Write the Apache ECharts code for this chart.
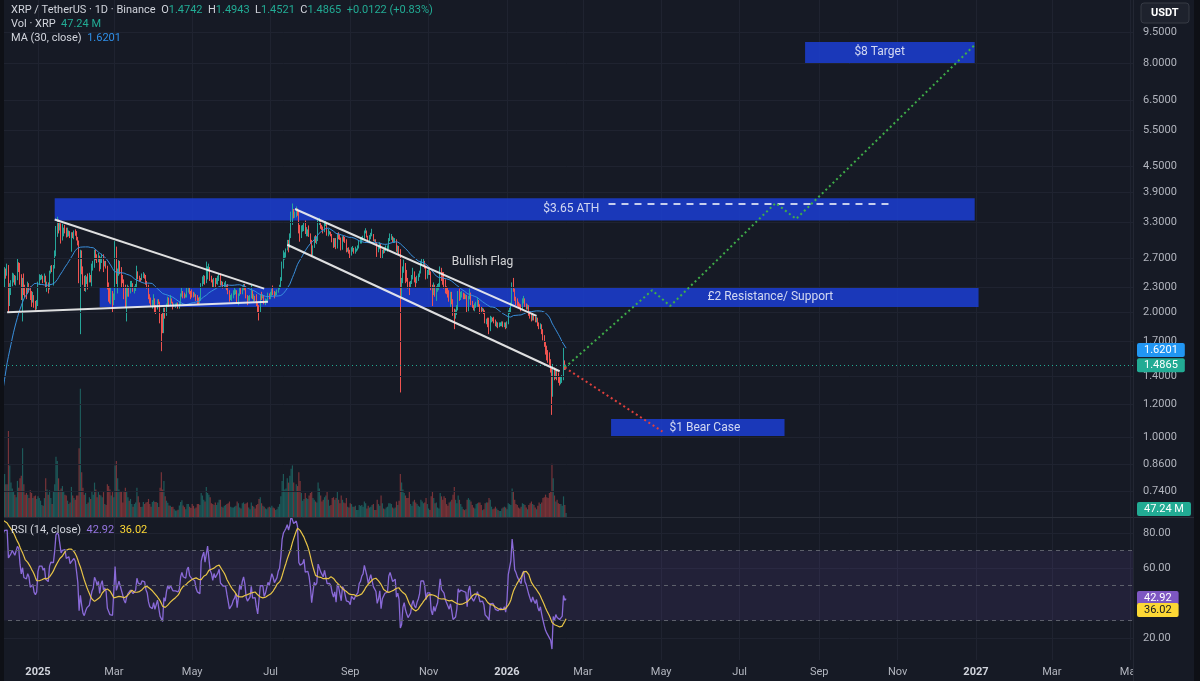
<!DOCTYPE html>
<html>
<head>
<meta charset="utf-8">
<title>XRP / TetherUS 1D</title>
<script src="https://cdn.jsdelivr.net/npm/echarts@6/dist/echarts.min.js"></script>
<style>
  html, body { margin: 0; padding: 0; background: #161a25; }
  #main { width: 1200px; height: 681px; }
</style>
</head>
<body>
<div id="main"></div>
<script>
// daily bars from 2024-11-01 (November only warms up MA / RSI, it sits left of the view)
const startDay = '2024-11-01';
const firstOpen = 0.52;
const closes = [
  0.51,0.51,0.51,0.50,0.52,0.55,0.55,0.56,0.59,0.63,0.71,0.67,0.73,0.80,0.90,1.12,1.08,1.13,1.10,1.10,1.14,1.43,1.49,1.44,1.41,1.40,1.47,1.54,1.72,1.96,
  2.05,2.62,2.56,2.55,2.38,2.51,2.50,2.55,2.24,2.28,2.35,2.43,2.43,2.38,2.41,2.59,2.57,2.40,2.28,2.39,2.26,2.25,2.24,2.32,2.28,2.15,2.13,2.18,2.08,2.05,2.08,
  2.35,2.44,2.44,2.44,2.40,2.43,2.32,2.34,2.30,2.50,2.56,2.55,2.56,2.75,3.18,3.26,3.24,3.24,3.07,3.13,3.17,3.16,3.08,3.10,3.11,3.05,3.08,3.07,3.13,3.11,3.03,
  2.93,2.55,2.73,2.55,2.38,2.32,2.37,2.41,2.39,2.43,2.40,2.58,2.62,2.77,2.73,2.67,2.72,2.56,2.68,2.73,2.60,2.63,2.58,2.30,2.27,2.17,2.19,2.14,
  2.15,2.87,2.40,2.50,2.61,2.51,2.40,2.38,2.18,2.11,2.21,2.27,2.23,2.32,2.33,2.26,2.28,2.31,2.49,2.42,2.41,2.40,2.45,2.46,2.44,2.35,2.31,2.19,2.12,2.09,2.09,
  2.14,2.05,2.04,2.12,2.11,1.90,1.87,1.81,2.02,1.97,2.07,2.14,2.10,2.14,2.11,2.08,2.08,2.08,2.09,2.07,2.09,2.19,2.23,2.20,2.19,2.19,2.26,2.28,2.23,2.22,
  2.21,2.20,2.20,2.16,2.14,2.13,2.13,2.33,2.38,2.42,2.37,2.45,2.55,2.56,2.41,2.39,2.34,2.40,2.37,2.37,2.41,2.44,2.35,2.35,2.33,2.33,2.33,2.28,2.23,2.17,2.17,
  2.19,2.21,2.22,2.24,2.15,2.20,2.27,2.24,2.29,2.32,2.28,2.19,2.16,2.16,2.18,2.24,2.16,2.17,2.16,2.09,2.03,2.02,2.19,2.18,2.19,2.11,2.13,2.14,2.20,2.18,
  2.22,2.26,2.24,2.21,2.22,2.24,2.28,2.30,2.39,2.60,2.72,2.77,2.83,2.93,2.90,3.04,3.45,3.49,3.43,3.44,3.54,3.50,3.18,3.15,3.18,3.18,3.25,3.12,3.12,3.13,3.08,
  2.97,2.76,2.88,3.01,2.97,3.00,3.30,3.33,3.22,3.20,3.16,3.26,3.28,3.11,3.11,3.11,3.08,3.00,2.95,3.00,2.87,3.07,3.03,3.01,2.85,3.02,2.99,2.97,2.82,2.83,2.80,
  2.76,2.84,2.85,2.80,2.83,2.83,2.86,2.94,2.96,3.01,3.03,3.12,3.14,3.05,2.99,3.03,3.07,3.08,2.98,2.98,2.94,2.83,2.86,2.92,2.73,2.81,2.79,2.85,2.86,2.86,
  3.00,3.04,3.04,2.97,2.98,2.99,2.84,2.87,2.81,2.36,2.39,2.55,2.60,2.48,2.40,2.33,2.31,2.36,2.44,2.48,2.40,2.37,2.42,2.45,2.50,2.63,2.63,2.63,2.58,2.44,2.50,
  2.51,2.50,2.29,2.22,2.29,2.22,2.26,2.29,2.30,2.52,2.40,2.39,2.36,2.28,2.26,2.20,2.16,2.20,2.11,1.98,1.95,1.98,2.04,2.22,2.18,2.20,2.20,2.19,2.18,2.18,
  2.04,2.17,2.21,2.10,2.08,2.05,2.07,2.09,2.12,2.08,2.03,2.02,2.03,2.00,1.90,1.91,1.86,1.83,1.92,1.93,1.92,1.90,1.87,1.87,1.86,1.86,1.87,1.87,1.86,1.87,1.84,
  1.88,2.00,2.01,2.09,2.34,2.27,2.15,2.13,2.10,2.08,2.07,2.05,2.13,2.15,2.08,2.06,2.06,1.99,1.96,1.93,1.96,1.93,1.91,1.93,1.87,1.84,1.86,1.80,1.74,1.68,1.62,
  1.58,1.57,1.51,1.47,1.27,1.46,1.40,1.44,1.40,1.39,1.37,1.38,1.39,1.52,1.4742,1.4865
];
const highs = [
  0.53,0.52,0.52,0.52,0.53,0.57,0.57,0.57,0.60,0.64,0.75,0.73,0.76,0.82,0.92,1.27,1.18,1.18,1.16,1.14,1.17,1.46,1.63,1.52,1.49,1.44,1.50,1.56,1.78,1.99,
  2.10,2.79,2.91,2.65,2.63,2.57,2.55,2.62,2.60,2.35,2.39,2.49,2.48,2.46,2.45,2.70,2.64,2.63,2.47,2.42,2.48,2.33,2.29,2.37,2.35,2.31,2.25,2.24,2.20,2.13,2.14,
  2.37,2.47,2.46,2.47,2.45,2.48,2.45,2.37,2.36,2.52,2.59,2.60,2.60,2.82,3.23,3.40,3.35,3.31,3.28,3.27,3.20,3.25,3.20,3.20,3.15,3.14,3.12,3.12,3.15,3.17,3.14,
  3.04,2.98,2.83,2.82,2.58,2.45,2.46,2.44,2.48,2.49,2.46,2.62,2.66,2.83,2.84,2.76,2.78,2.74,2.72,2.77,2.76,2.66,2.66,2.59,2.36,2.30,2.29,2.25,
  2.22,2.97,2.88,2.55,2.67,2.66,2.57,2.46,2.40,2.33,2.30,2.33,2.31,2.38,2.38,2.35,2.31,2.34,2.59,2.51,2.45,2.42,2.48,2.50,2.48,2.46,2.38,2.33,2.21,2.17,2.14,
  2.21,2.16,2.08,2.15,2.15,2.12,1.98,2.00,2.05,2.05,2.10,2.18,2.17,2.20,2.16,2.12,2.10,2.10,2.11,2.11,2.12,2.22,2.29,2.25,2.23,2.21,2.30,2.30,2.29,2.25,
  2.27,2.24,2.23,2.21,2.20,2.17,2.18,2.35,2.44,2.46,2.45,2.65,2.58,2.62,2.57,2.45,2.40,2.42,2.42,2.42,2.45,2.48,2.48,2.38,2.37,2.36,2.38,2.33,2.34,2.26,2.20,
  2.22,2.26,2.30,2.27,2.26,2.22,2.29,2.30,2.31,2.34,2.34,2.30,2.20,2.19,2.20,2.33,2.26,2.21,2.19,2.21,2.11,2.08,2.21,2.24,2.21,2.20,2.16,2.15,2.23,2.22,
  2.24,2.28,2.32,2.25,2.24,2.27,2.30,2.33,2.43,2.65,2.82,2.79,2.85,2.99,2.99,3.10,3.50,3.66,3.55,3.50,3.60,3.56,3.52,3.25,3.24,3.25,3.29,3.33,3.21,3.17,3.24,
  3.10,2.99,2.90,3.05,3.07,3.04,3.35,3.38,3.34,3.25,3.22,3.29,3.32,3.30,3.18,3.14,3.13,3.09,3.02,3.02,3.02,3.10,3.12,3.08,3.03,3.05,3.06,3.04,3.00,2.86,2.87,
  2.83,2.87,2.89,2.86,2.88,2.85,2.90,2.98,3.02,3.04,3.06,3.15,3.19,3.15,3.06,3.07,3.11,3.18,3.09,3.00,3.00,2.95,2.90,2.95,2.93,2.83,2.84,2.87,2.90,2.90,
  3.02,3.10,3.09,3.05,3.03,3.02,3.00,2.90,2.89,2.84,2.42,2.58,2.68,2.63,2.53,2.42,2.37,2.38,2.46,2.56,2.51,2.43,2.45,2.48,2.52,2.66,2.70,2.69,2.66,2.59,2.53,
  2.55,2.54,2.51,2.33,2.36,2.33,2.31,2.34,2.35,2.58,2.56,2.50,2.50,2.40,2.31,2.29,2.26,2.24,2.24,2.15,2.04,2.03,2.08,2.25,2.28,2.24,2.25,2.23,2.22,2.21,
  2.20,2.19,2.28,2.23,2.13,2.08,2.10,2.12,2.17,2.14,2.09,2.06,2.05,2.04,2.02,1.93,1.94,1.94,1.96,1.95,1.94,1.95,1.92,1.90,1.89,1.89,1.89,1.90,1.90,1.89,1.89,
  1.90,2.02,2.05,2.11,2.36,2.42,2.28,2.18,2.16,2.12,2.10,2.09,2.16,2.19,2.16,2.10,2.09,2.08,2.01,1.98,1.99,1.98,1.95,1.95,1.94,1.89,1.88,1.87,1.82,1.76,1.70,
  1.66,1.62,1.60,1.54,1.47,1.50,1.47,1.46,1.45,1.43,1.40,1.40,1.41,1.64,1.53,1.4943
];
const lows = [
  0.50,0.50,0.50,0.49,0.50,0.51,0.53,0.54,0.55,0.58,0.62,0.64,0.66,0.72,0.79,0.90,1.02,1.04,1.05,1.07,1.08,1.13,1.38,1.35,1.35,1.29,1.38,1.43,1.53,1.70,
  1.87,2.04,2.36,2.41,2.33,2.30,2.41,2.45,2.00,2.07,2.20,2.31,2.36,2.33,2.32,2.39,2.50,2.33,2.14,1.90,2.20,2.17,2.15,2.21,2.23,2.14,2.06,2.11,2.05,2.02,2.03,
  2.07,2.33,2.39,2.40,2.35,2.36,2.30,2.24,2.22,2.27,2.48,2.50,2.32,2.55,2.73,3.04,3.10,3.15,2.93,2.98,3.05,3.10,3.03,3.04,3.05,3.02,2.80,3.02,3.00,3.06,2.98,
  2.90,2.35,1.77,2.47,2.33,2.25,2.24,2.34,2.27,2.36,2.36,2.31,2.52,2.56,2.67,2.63,2.64,2.51,2.54,2.63,2.50,2.58,2.55,2.27,2.12,2.10,2.09,2.00,
  2.08,2.14,2.34,2.22,2.45,2.47,2.29,2.35,2.15,2.05,1.90,2.18,2.18,2.22,2.30,2.24,2.22,2.25,2.29,2.40,2.37,2.37,2.39,2.42,2.41,2.33,2.28,2.15,2.10,2.06,2.04,
  2.07,2.00,1.98,2.03,2.09,1.88,1.61,1.78,1.78,1.93,1.96,2.06,2.06,2.08,2.10,2.03,2.06,2.05,2.07,2.04,2.04,2.08,2.18,2.16,2.16,2.17,2.17,2.23,2.21,2.15,
  2.17,2.17,2.18,2.13,2.09,2.09,2.10,2.13,2.31,2.34,2.33,2.35,2.40,2.51,2.38,2.36,2.30,2.30,2.30,2.34,2.33,2.38,2.32,2.32,2.28,2.29,2.28,2.26,2.21,2.12,2.14,
  2.13,2.16,2.20,2.21,2.10,2.08,2.19,2.21,2.21,2.26,2.26,2.16,2.08,2.13,2.13,2.16,2.15,2.12,2.13,2.07,2.00,1.91,2.00,2.14,2.16,2.09,2.08,2.11,2.13,2.15,
  2.15,2.19,2.20,2.16,2.19,2.20,2.23,2.27,2.29,2.38,2.55,2.68,2.71,2.82,2.79,2.86,3.02,3.25,3.37,3.38,3.39,3.42,3.10,2.96,3.02,3.13,3.14,3.09,3.05,3.05,3.04,
  2.93,2.72,2.74,2.86,2.94,2.92,2.97,3.25,3.18,3.16,3.10,3.12,3.23,3.06,3.05,3.08,3.05,2.95,2.86,2.87,2.84,2.85,3.00,2.99,2.82,2.83,2.96,2.94,2.79,2.80,2.77,
  2.70,2.74,2.80,2.77,2.77,2.80,2.82,2.85,2.93,2.93,2.98,3.01,3.10,3.03,2.96,2.97,3.00,3.05,2.97,2.96,2.93,2.72,2.79,2.84,2.70,2.69,2.77,2.78,2.81,2.80,
  2.84,2.97,2.99,2.95,2.94,2.94,2.80,2.78,2.75,1.28,2.18,2.35,2.49,2.35,2.37,2.28,2.20,2.30,2.34,2.40,2.36,2.30,2.35,2.38,2.43,2.48,2.60,2.59,2.55,2.40,2.41,
  2.46,2.46,2.26,2.07,2.20,2.18,2.13,2.24,2.26,2.29,2.38,2.33,2.28,2.22,2.21,2.17,2.12,2.06,2.09,1.96,1.82,1.93,1.97,2.02,2.13,2.14,2.17,2.15,2.15,2.15,
  2.00,2.01,2.15,2.08,2.05,2.02,2.01,2.05,2.06,2.06,1.98,1.99,2.01,1.98,1.88,1.87,1.84,1.77,1.80,1.89,1.90,1.88,1.85,1.84,1.83,1.84,1.85,1.85,1.84,1.84,1.82,
  1.83,1.87,1.98,1.99,2.08,2.24,2.13,2.08,2.07,2.05,2.04,2.01,2.03,2.10,2.06,2.03,2.03,1.96,1.93,1.90,1.91,1.91,1.89,1.89,1.85,1.82,1.82,1.77,1.71,1.65,1.58,
  1.53,1.51,1.49,1.43,1.13,1.25,1.37,1.38,1.37,1.35,1.33,1.34,1.35,1.37,1.45,1.4521
];
// volume, millions of XRP
const volumes = [
  250,200,220,260,300,500,450,420,600,900,1600,1400,1300,1500,1700,2500,1500,1200,1000,900,1100,2500,1800,1200,1100,1000,900,1100,1700,2000,
  1100,2000,2200,1300,1000,500,380,380,1000,600,400,330,300,260,230,420,340,450,480,800,380,260,280,260,220,310,280,220,240,250,210,
  240,220,190,140,130,220,450,320,260,310,220,150,300,380,700,650,450,310,330,360,300,260,250,190,150,170,350,250,220,200,250,
  250,800,1490,520,340,260,280,150,170,230,210,300,260,400,320,230,290,260,250,230,290,150,140,380,360,320,250,290,
  230,600,650,450,320,290,300,170,290,340,300,230,190,210,150,120,150,170,340,240,170,115,120,175,150,170,175,210,150,120,175,
  190,175,175,165,115,340,520,320,420,240,190,165,135,130,115,120,90,75,75,85,135,175,195,135,115,90,150,150,120,105,
  150,130,100,110,150,150,140,280,250,200,180,350,280,260,230,160,150,140,170,140,170,200,200,120,110,130,140,150,160,180,120,
  110,110,120,130,180,160,110,100,160,170,150,160,170,110,90,170,130,120,100,140,150,210,230,160,130,120,100,90,110,120,
  110,130,110,100,80,90,120,150,240,420,500,320,330,450,400,480,560,600,400,300,380,360,520,420,280,190,210,280,220,210,250,
  280,300,220,200,180,170,400,330,250,180,200,230,250,300,200,130,140,220,230,200,220,300,200,160,250,200,170,160,220,120,110,
  160,150,120,120,130,80,80,140,130,140,120,180,160,100,130,110,120,140,150,80,80,200,150,130,250,160,100,90,110,120,
  160,160,150,110,100,110,180,140,190,500,400,320,280,250,220,220,300,150,130,180,200,170,150,130,120,200,180,160,170,220,150,
  100,80,240,300,220,160,170,110,100,280,240,200,240,220,150,130,170,180,200,260,350,200,160,250,200,150,120,90,80,90,
  200,220,200,180,140,110,100,150,160,170,170,140,80,90,160,170,170,220,200,120,90,100,120,100,80,70,70,100,110,120,110,
  90,160,150,140,330,300,200,150,140,110,100,120,160,150,140,110,90,140,160,180,150,140,110,90,130,170,150,170,220,230,260,
  230,220,280,300,620,450,250,180,200,160,150,150,130,240,140,47.24
];

const priceTicks = [0.74, 0.86, 1.0, 1.2, 1.4, 1.7, 2.0, 2.3, 2.7, 3.3, 3.9, 4.5, 5.5, 6.5, 8.0, 9.5];
const rsiTicks = [20, 60, 80];
const monthTicks = ['2025-01-01', '2025-03-01', '2025-05-01', '2025-07-01', '2025-09-01', '2025-11-01',
  '2026-01-01', '2026-03-01', '2026-05-01', '2026-07-01', '2026-09-01', '2026-11-01',
  '2027-01-01', '2027-03-01', '2027-05-01'];
const monthNames = ['Jan', 'Feb', 'Mar', 'Apr', 'May', 'Jun', 'Jul', 'Aug', 'Sep', 'Oct', 'Nov', 'Dec'];

// header values as shown
const lastBar = { o: '1.4742', h: '1.4943', l: '1.4521', c: 1.4865, chg: '+0.0122 (+0.83%)' };
const lastVol = 47.24, lastMa = 1.6201, lastRsi = 42.92, lastRsiMa = 36.02;

// drawings on the chart
const zones = [
  { from: '2025-01-14', to: '2026-12-31', low: 3.33, high: 3.77 },
  { from: '2025-02-18', to: '2027-01-03', low: 2.06, high: 2.29 },
  { from: '2026-08-21', to: '2026-12-31', low: 7.95, high: 8.99 },
  { from: '2026-03-23', to: '2026-08-05', low: 1.005, high: 1.104 }
];
const noteLabels = [
  ['2026-02-20', 3.55, '$3.65 ATH'],
  ['2026-07-25', 2.176, '£2 Resistance/ Support'],
  ['2026-10-18', 8.5, '$8 Target'],
  ['2026-06-04', 1.05, '$1 Bear Case'],
  ['2025-12-13', 2.64, 'Bullish Flag']
];
const trendLines = [
  [['2025-01-14', 3.35], ['2025-06-26', 2.28]],
  [['2024-12-08', 2.0], ['2025-06-29', 2.12]],
  [['2025-07-20', 3.55], ['2026-01-24', 1.96]],
  [['2025-07-14', 2.91], ['2026-02-11', 1.44]]
];
const athLine = [['2026-03-21', 3.65], ['2026-10-26', 3.65]];
const bullPath = [['2026-02-15', 1.47], ['2026-04-24', 2.26], ['2026-05-08', 2.07], ['2026-07-29', 3.67], ['2026-08-14', 3.36], ['2026-12-31', 8.84]];
const bearPath = [['2026-02-15', 1.47], ['2026-05-02', 1.03]];

const FONT = 'Roboto, "Noto Sans", sans-serif';
const DAY = 86400000;
const ts = s => Date.parse(s + 'T00:00:00Z');
const t0 = ts(startDay);
const jan25 = ts('2025-01-01');
const xMin = jan25 - 29.57 * DAY, xMax = jan25 + 852.2 * DAY;

// bars
const times = closes.map((_, i) => t0 + i * DAY);
const candles = [], volBars = [];
closes.forEach((c, i) => {
  const o = i === 0 ? firstOpen : closes[i - 1];
  const h = Math.max(highs[i], o, c), l = Math.min(lows[i], o, c);
  candles.push([times[i], o, c, l, h]);
  volBars.push({ value: [times[i], volumes[i]], itemStyle: { color: c >= o ? 'rgba(38,166,154,0.45)' : 'rgba(239,83,80,0.45)' } });
});

function smaOf(vals, n) {
  return vals.map((v, i) => {
    if (i < n - 1) return null;
    const win = vals.slice(i - n + 1, i + 1);
    if (win.some(x => x == null)) return null;
    return win.reduce((a, b) => a + b, 0) / n;
  });
}
function rsiOf(vals, n) {
  const out = vals.map(() => null);
  let g = 0, l = 0;
  for (let i = 1; i <= n; i++) { const d = vals[i] - vals[i - 1]; g += Math.max(d, 0); l += Math.max(-d, 0); }
  g /= n; l /= n;
  out[n] = 100 - 100 / (1 + g / l);
  for (let i = n + 1; i < vals.length; i++) {
    const d = vals[i] - vals[i - 1];
    g = (g * (n - 1) + Math.max(d, 0)) / n;
    l = (l * (n - 1) + Math.max(-d, 0)) / n;
    out[i] = l === 0 ? 100 : 100 - 100 / (1 + g / l);
  }
  return out;
}
const ma30 = smaOf(closes, 30);
const rsi = rsiOf(closes, 14);
const rsiMa = smaOf(rsi, 14);
const pair = arr => arr.map((v, i) => [times[i], v]);
const pts = arr => arr.map(p => [ts(p[0]), p[1]]);

const tag = (text, bg, fg) => ({
  show: true, position: 'end', distance: 4, formatter: text, backgroundColor: bg,
  color: fg || '#ffffff', padding: [2, 7, 1, 7], fontSize: 11, fontFamily: FONT, borderRadius: 2
});
const hidden = { opacity: 0 };
const noLine = { width: 0, color: 'rgba(0,0,0,0)' };
const gridLine = '#1f2330';
const monthTs = monthTicks.map(ts);

// time runs on a value axis (milliseconds) so the month ticks can be placed exactly
const xAxisBase = (gi, labels) => ({
  type: 'value', gridIndex: gi, min: xMin, max: xMax,
  axisLine: { show: false },
  axisTick: { show: false, customValues: monthTs },
  axisLabel: {
    show: labels, customValues: monthTs, color: '#b2b5be', fontSize: 11, fontFamily: FONT, margin: 7,
    formatter: v => { const d = new Date(v); const m = d.getUTCMonth(); return m === 0 ? '{y|' + d.getUTCFullYear() + '}' : monthNames[m]; },
    rich: { y: { fontWeight: 'bold', color: '#d1d4dc', fontSize: 11, fontFamily: FONT } }
  },
  splitLine: { show: gi !== 1, lineStyle: { color: gridLine } }
});

const series = [
  { // price scale labels and horizontal grid
    type: 'line', xAxisIndex: 0, yAxisIndex: 0, z: 1, silent: true, symbol: 'none',
    data: [[jan25, 2]], lineStyle: hidden,
    markLine: {
      silent: true, symbol: ['none', 'none'], animation: false,
      data: priceTicks.map(v => ({
        yAxis: v, lineStyle: { color: gridLine, width: 1, type: 'solid' },
        label: { show: true, position: 'end', distance: 10, formatter: v.toFixed(4), color: '#b2b5be', fontSize: 11, fontFamily: FONT }
      }))
    }
  },
  {
    type: 'candlestick', xAxisIndex: 0, yAxisIndex: 0, z: 2, data: candles, barWidth: 1,
    itemStyle: { color: '#26a69a', color0: '#ef5350', borderColor: '#26a69a', borderColor0: '#ef5350', borderWidth: 1 }
  },
  {
    type: 'bar', xAxisIndex: 1, yAxisIndex: 1, z: 1, data: volBars, barWidth: 1.2,
    markLine: {
      silent: true, symbol: ['none', 'none'],
      data: [{ yAxis: lastVol, lineStyle: noLine, label: Object.assign(tag(lastVol.toFixed(2) + ' M', '#22ab94'), { offset: [0, -4] }) }]
    }
  },
  {
    type: 'line', name: 'MA', xAxisIndex: 0, yAxisIndex: 0, z: 3, data: pair(ma30), symbol: 'none',
    lineStyle: { color: '#3a8fdc', width: 1 },
    markLine: {
      silent: true, symbol: ['none', 'none'],
      data: [
        { yAxis: lastBar.c, lineStyle: { color: '#22ab94', width: 1, type: [1, 3] }, label: tag(lastBar.c.toFixed(4), '#22ab94') },
        { yAxis: lastMa, lineStyle: noLine, label: tag(lastMa.toFixed(4), '#2196f3') }
      ]
    }
  },
  { // zone boxes
    type: 'line', xAxisIndex: 0, yAxisIndex: 0, z: 3, silent: true, symbol: 'none',
    data: pts(athLine), lineStyle: hidden,
    markArea: {
      silent: true, itemStyle: { color: 'rgba(27,62,210,0.86)' },
      data: zones.map(zn => [{ xAxis: ts(zn.from), yAxis: zn.high }, { xAxis: ts(zn.to), yAxis: zn.low }])
    }
  },
  {
    type: 'line', xAxisIndex: 0, yAxisIndex: 0, z: 5, silent: true, symbol: 'none',
    data: pts(athLine), lineStyle: { color: '#ffffff', width: 1.5, type: [7, 6] }
  }
];
trendLines.forEach(tl => series.push({
  type: 'line', xAxisIndex: 0, yAxisIndex: 0, z: 5, silent: true, symbol: 'none',
  data: pts(tl), lineStyle: { color: 'rgba(240,240,240,0.92)', width: 2 }
}));
series.push(
  { type: 'line', xAxisIndex: 0, yAxisIndex: 0, z: 5, silent: true, symbol: 'none', data: pts(bullPath), lineStyle: { color: '#3fae49', width: 2, type: [2, 3] } },
  { type: 'line', xAxisIndex: 0, yAxisIndex: 0, z: 5, silent: true, symbol: 'none', data: pts(bearPath), lineStyle: { color: '#e0403c', width: 2, type: [2, 3] } },
  {
    type: 'scatter', xAxisIndex: 0, yAxisIndex: 0, z: 6, silent: true, symbolSize: 1,
    itemStyle: { color: 'rgba(0,0,0,0)' },
    data: noteLabels.map(n => ({ value: [ts(n[0]), n[1]], label: { formatter: n[2] } })),
    label: { show: true, position: 'inside', color: '#ffffff', fontSize: 12, fontFamily: FONT }
  }
);

// RSI pane
const obBase = rsi.map(v => v == null ? null : 70);
const obDelta = rsi.map(v => v == null ? null : Math.max(v - 70, 0));
const osBase = rsi.map(v => v == null ? null : Math.min(v, 30));
const osDelta = osBase.map(v => v == null ? null : 30 - v);
const rsiCommon = { type: 'line', xAxisIndex: 2, yAxisIndex: 2, symbol: 'none', silent: true };
series.push(
  Object.assign({}, rsiCommon, { stack: 'ob', data: pair(obBase), lineStyle: hidden }),
  Object.assign({}, rsiCommon, {
    stack: 'ob', data: pair(obDelta), lineStyle: hidden,
    areaStyle: { color: new echarts.graphic.LinearGradient(0, 0, 0, 1, [{ offset: 0, color: 'rgba(76,175,80,0.8)' }, { offset: 1, color: 'rgba(76,175,80,0.15)' }]) }
  }),
  Object.assign({}, rsiCommon, { stack: 'os', data: pair(osBase), lineStyle: hidden }),
  Object.assign({}, rsiCommon, {
    stack: 'os', data: pair(osDelta), lineStyle: hidden,
    areaStyle: { color: 'rgba(239,83,80,0.25)' }
  }),
  Object.assign({}, rsiCommon, {
    z: 3, data: pair(rsi), lineStyle: { color: '#8a6ad8', width: 1.3 },
    markArea: { silent: true, itemStyle: { color: 'rgba(126,87,194,0.12)' }, data: [[{ yAxis: 70 }, { yAxis: 30 }]] },
    markLine: {
      silent: true, symbol: ['none', 'none'], label: { show: false },
      data: [70, 50, 30].map(v => ({ yAxis: v, lineStyle: { color: '#5d606b', width: 1, type: [4, 4] } }))
        .concat([{ yAxis: lastRsi, lineStyle: noLine, label: tag(lastRsi.toFixed(2), '#7e57c2') }])
    }
  }),
  Object.assign({}, rsiCommon, {
    z: 4, data: pair(rsiMa), lineStyle: { color: '#e8c547', width: 1.2 },
    markLine: {
      silent: true, symbol: ['none', 'none'],
      data: [{ yAxis: lastRsiMa, lineStyle: noLine, label: tag(lastRsiMa.toFixed(2), '#fdd835', '#131722') }]
    }
  })
);

const txt = (left, top, text, rich) => ({
  type: 'text', left, top, z: 100, silent: true,
  style: { text, fontSize: 11, fontFamily: FONT, fill: '#d1d4dc', rich }
});
const richBase = { a: { fill: '#d1d4dc', fontSize: 11, fontFamily: FONT } };

const chart = echarts.init(document.getElementById('main'));
chart.setOption({
  backgroundColor: '#161a25',
  animation: false,
  grid: [
    { left: 0, right: 67, top: 0, height: 517 },
    { left: 0, right: 67, top: 388, height: 129 },
    { left: 0, right: 67, top: 518, height: 142 }
  ],
  xAxis: [xAxisBase(0, false), Object.assign(xAxisBase(1, false), { show: false }), xAxisBase(2, true)],
  yAxis: [
    { type: 'log', logBase: 10, gridIndex: 0, min: 0.6404, max: 11.35, position: 'right',
      axisLine: { show: false }, axisTick: { show: false }, axisLabel: { show: false }, splitLine: { show: false } },
    { type: 'value', gridIndex: 1, min: 0, max: 1500, show: false, splitLine: { show: false } },
    { type: 'value', gridIndex: 2, min: 7.43, max: 88.57, position: 'right',
      axisLine: { show: false },
      axisTick: { show: false, customValues: rsiTicks },
      axisLabel: { customValues: rsiTicks, formatter: v => v.toFixed(2), color: '#b2b5be', fontSize: 11, fontFamily: FONT, margin: 10 },
      splitLine: { show: true, lineStyle: { color: gridLine } } }
  ],
  series,
  graphic: [
    { type: 'rect', z: 100, silent: true, shape: { x: 0, y: 0, width: 4, height: 681 }, style: { fill: '#0e1016' } },
    { type: 'rect', z: 100, silent: true, shape: { x: 1194, y: 0, width: 6, height: 681 }, style: { fill: '#0e1016' } },
    { type: 'rect', z: 99, silent: true, shape: { x: 1134, y: 662, width: 60, height: 19 }, style: { fill: '#161a25' } },
    { type: 'line', z: 100, silent: true, shape: { x1: 4, y1: 517.5, x2: 1194, y2: 517.5 }, style: { stroke: '#2a2e39', lineWidth: 1 } },
    { type: 'line', z: 100, silent: true, shape: { x1: 1133.5, y1: 0, x2: 1133.5, y2: 681 }, style: { stroke: '#232733', lineWidth: 1 } },
    { type: 'rect', z: 100, silent: true, shape: { x: 1141, y: 3, width: 48, height: 20, r: 3 }, style: { fill: '#1e222d', stroke: '#363a45', lineWidth: 1 } },
    { type: 'text', z: 101, silent: true, left: 1151, top: 8, style: { text: 'USDT', fill: '#ffffff', fontSize: 11, fontWeight: 'bold', fontFamily: FONT } },
    txt(11, 5, '{a|XRP / TetherUS · 1D · Binance}  {a|O}{v|' + lastBar.o + '}  {a|H}{v|' + lastBar.h + '}  {a|L}{v|' + lastBar.l +
      '}  {a|C}{v|' + lastBar.c.toFixed(4) + '}  {v|' + lastBar.chg + '}',
      Object.assign({ v: { fill: '#22ab94', fontSize: 11, fontFamily: FONT } }, richBase)),
    txt(11, 19, '{a|Vol · XRP}  {v|' + lastVol.toFixed(2) + ' M}',
      Object.assign({ v: { fill: '#22ab94', fontSize: 11, fontFamily: FONT } }, richBase)),
    txt(11, 33, '{a|MA (30, close)}  {v|' + lastMa.toFixed(4) + '}',
      Object.assign({ v: { fill: '#2f8fe8', fontSize: 11, fontFamily: FONT } }, richBase)),
    txt(11, 525, '{a|RSI (14, close)}  {p|' + lastRsi.toFixed(2) + '}  {y|' + lastRsiMa.toFixed(2) + '}',
      Object.assign({ p: { fill: '#9575e0', fontSize: 11, fontFamily: FONT }, y: { fill: '#fdd835', fontSize: 11, fontFamily: FONT } }, richBase))
  ]
});
</script>
</body>
</html>
